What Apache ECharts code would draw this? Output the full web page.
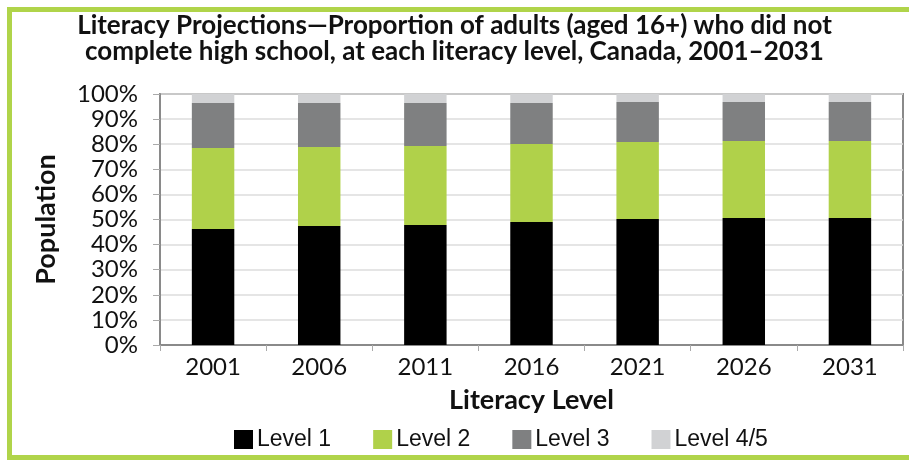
<!DOCTYPE html>
<html>
<head>
<meta charset="utf-8">
<script src="https://cdn.jsdelivr.net/npm/echarts@6/dist/echarts.min.js"></script>
<style>
  html, body { margin: 0; padding: 0; background: #fff; }
  #chart { width: 909px; height: 460px; }
</style>
</head>
<body>
<div id="chart"></div>
<script>
// years on the x axis
var years = ["2001", "2006", "2011", "2016", "2021", "2026", "2031"];

// share of adults at each literacy level (%)
var level1 = [46.2, 47.4, 47.8, 49.0, 50.2, 50.6, 50.6];
var level2 = [32.3, 31.5, 31.5, 31.1, 30.7, 30.7, 30.7];
var level3 = [17.9, 17.5, 17.1, 16.3, 15.9, 15.5, 15.5];
var level45 = [3.6, 3.6, 3.6, 3.6, 3.2, 3.2, 3.2];

var seriesNames = ["Level 1", "Level 2", "Level 3", "Level 4/5"];
var seriesColors = ["#000000", "#b0d14a", "#7f8081", "#d1d2d4"];
var seriesData = [level1, level2, level3, level45];

var myChart = echarts.init(document.getElementById("chart"));

var series = seriesData.map(function (d, i) {
  return {
    name: seriesNames[i],
    type: "bar",
    stack: "total",
    barWidth: "40%",
    itemStyle: { color: seriesColors[i] },
    data: d
  };
});

myChart.setOption({
  backgroundColor: "#ffffff",
  animation: false,
  graphic: [
    {
      // green frame round the figure
      type: "rect",
      shape: { x: 9.5, y: 9.5, width: 1000, height: 448 },
      style: { fill: "none", stroke: "#b0d44a", lineWidth: 5 }
    }
  ],
  title: {
    text: "Literacy Projections\u2014Proportion of adults (aged 16+) who did not\ncomplete high school, at each literacy level, Canada, 2001\u20132031",
    left: "center",
    top: 8,
    textStyle: {
      fontFamily: "Lato",
      fontWeight: "bold",
      fontSize: 26,
      lineHeight: 26,
      color: "#111"
    }
  },
  legend: {
    data: seriesNames,
    left: 229,
    top: 423,
    itemWidth: 19,
    itemHeight: 19,
    itemGap: 42,
    icon: "rect",
    textStyle: {
      fontFamily: "Liberation Sans",
      fontSize: 23,
      color: "#111",
      padding: [0, 0, 0, -1]
    }
  },
  grid: {
    left: 160,
    right: 6,
    top: 94,
    bottom: 115,
    show: true,
    borderColor: "#8a8a8a",
    borderWidth: 2,
    containLabel: false
  },
  xAxis: {
    type: "category",
    data: years,
    name: "Literacy Level",
    nameLocation: "middle",
    nameGap: 42,
    nameTextStyle: {
      fontFamily: "Lato",
      fontWeight: "bold",
      fontSize: 27,
      color: "#111"
    },
    axisLine: { lineStyle: { color: "#8a8a8a", width: 2 } },
    axisTick: { show: true, length: 6, lineStyle: { color: "#aaa" } },
    axisLabel: {
      fontFamily: "Lato",
      fontSize: 24,
      color: "#111",
      margin: 10
    }
  },
  yAxis: {
    type: "value",
    min: 0,
    max: 100,
    interval: 10,
    name: "Population",
    nameLocation: "middle",
    nameRotate: 90,
    nameGap: 100,
    nameTextStyle: {
      fontFamily: "Lato",
      fontWeight: "bold",
      fontSize: 27,
      color: "#111"
    },
    axisLine: { show: true, lineStyle: { color: "#8a8a8a", width: 2 } },
    axisTick: { show: true, length: 7, lineStyle: { color: "#aaa" } },
    axisLabel: {
      formatter: "{value}%",
      fontFamily: "Lato",
      fontSize: 24,
      color: "#111",
      margin: 22
    },
    splitLine: { lineStyle: { color: "#dcdcdc", width: 1.5 } }
  },
  series: series
});
</script>
</body>
</html>
